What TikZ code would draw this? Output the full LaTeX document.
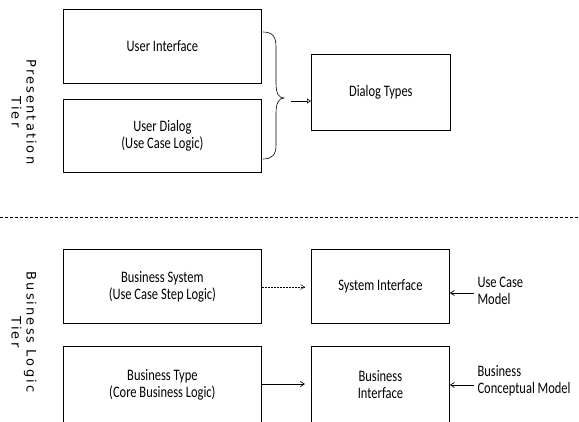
\documentclass[tikz,border=0pt]{standalone}
\usepackage{fontspec}
\setmainfont{Carlito}[FakeStretch=0.78]
\newfontfamily\sidefont{DejaVu Sans}[LetterSpace=16]
\usetikzlibrary{arrows.meta}
\begin{document}
\begin{tikzpicture}[x=1pt,y=-1pt,
  box/.style={draw,line width=0.8pt,anchor=north west,inner sep=0pt,align=center,font=\fontsize{16}{17}\selectfont},
  conn/.style={line width=0.7pt,-{Straight Barb[length=4pt,width=5pt]}},
  side/.style={rotate=-90,align=center,font=\sidefont\fontsize{13}{15}\selectfont},
  lbl/.style={anchor=west,align=left,font=\fontsize{16}{17}\selectfont}]
\useasboundingbox (0,0) rectangle (579,422);
\node[box,minimum width=198pt,minimum height=74pt] (ui) at (63,9) {User Interface};
\node[box,minimum width=198pt,minimum height=73pt] (ud) at (63,99) {User Dialog\\(Use Case Logic)};
\node[box,minimum width=139pt,minimum height=76pt] (dt) at (311,54) {Dialog Types};
\node[box,minimum width=198pt,minimum height=74pt] (bs) at (63,249) {Business System\\(Use Case Step Logic)};
\node[box,minimum width=198pt,minimum height=76pt] (bt) at (63,346) {Business Type\\(Core Business Logic)};
\node[box,minimum width=138pt,minimum height=74pt] (si) at (311,249) {System Interface};
\node[box,minimum width=138pt,minimum height=76pt] (bi) at (311,346) {Business\\Interface};
\node[side] (pt) at (24,112) {Presentation\\Tier};
\node[side] (bl) at (24,332) {Business Logic\\Tier};
\node[lbl] (ucm) at (474,291) {Use Case\\Model};
\node[lbl] (bcm) at (474,381) {Business\\Conceptual Model};
\coordinate (bt1) at (263,32);
\coordinate (bt2) at (263,159);
\coordinate (tip) at (291,101);
\draw[line width=0.6pt] (bt1) .. controls (273,32) and (276,37) .. (276,47) -- (276,83)
  .. controls (276,94) and (279,98) .. (284,98)
  .. controls (279,98) and (276,103) .. (276,113) -- (276,145)
  .. controls (276,155) and (272,159) .. (bt2);
\draw[line width=0.6pt,-{Triangle[open,length=4pt,width=5pt]}] (tip) -- (dt.west |- tip);
\draw[line width=0.6pt,dash pattern=on 3pt off 2pt] (0,217) -- (579,217);
\draw[conn,dash pattern=on 2pt off 1pt,line width=0.5pt] (bs.east |- 0,287) -- (305,287);
\draw[conn] (bt.east |- 0,384) -- (305,384);
\draw[conn] (ucm.west |- 0,293) -- (si.east |- 0,293);
\draw[conn] (bcm.west |- 0,385) -- (bi.east |- 0,385);
\end{tikzpicture}
\end{document}
